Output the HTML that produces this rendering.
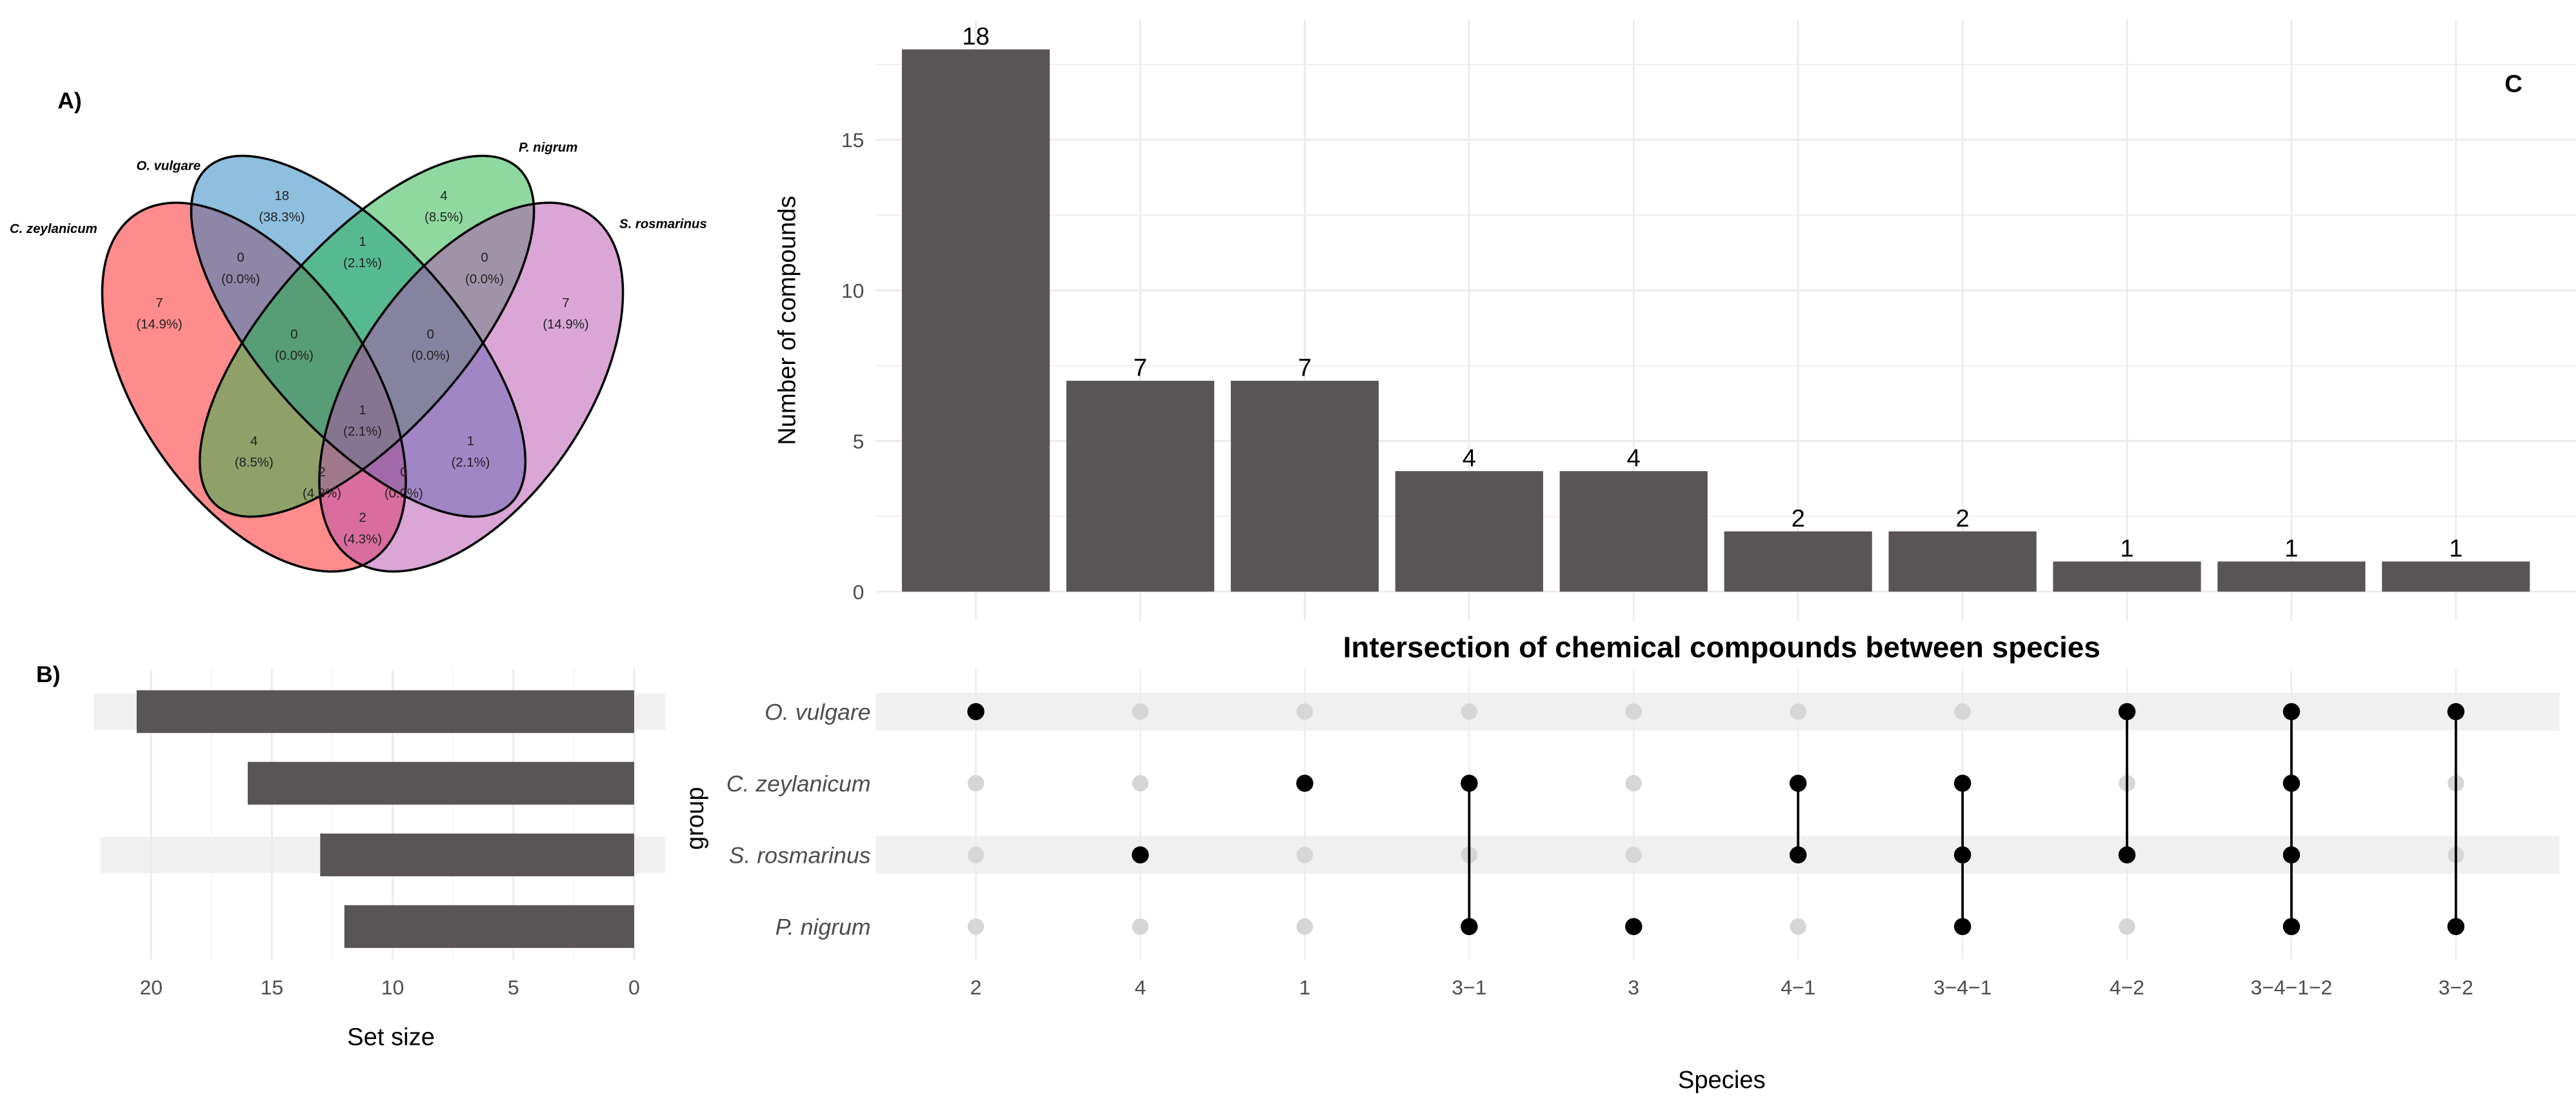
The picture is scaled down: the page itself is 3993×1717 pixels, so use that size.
<!DOCTYPE html>
<html><head><meta charset="utf-8"><style>
html,body{margin:0;padding:0;background:#fff;}
svg{display:block;font-family:"Liberation Sans",sans-serif;}
</style></head><body>
<svg id="fig" width="3993" height="1717" viewBox="0 0 1568 674.2" preserveAspectRatio="none" xmlns="http://www.w3.org/2000/svg">
<rect width="1568" height="674.2" fill="#fff"/>
<g id="venn"></g>
<g id="setsize"></g>
<g id="bars"></g>
<g id="matrix"></g>
</svg>
<script>
const NS='http://www.w3.org/2000/svg';
const categories=['2','4','1','3-1','3','4-1','3-4-1','4-2','3-4-1-2','3-2'];
const counts=[18,7,7,4,4,2,2,1,1,1];
const groups=['O. vulgare','C. zeylanicum','S. rosmarinus','P. nigrum'];
const groupIds=['2','1','4','3'];
const setSizes=[20.6,16,13,12];
const yTicks=[0,5,10,15];
const setTicks=[20,15,10,5,0];
const vennCounts=['18','4','0','1','0','7','7','0','0','1','4','1','2','0','2'];
const vennPcts=['(38.3%)','(8.5%)','(0.0%)','(2.1%)','(0.0%)','(14.9%)','(14.9%)','(0.0%)','(0.0%)','(2.1%)','(8.5%)','(2.1%)','(4.3%)','(0.0%)','(4.3%)'];

function mk(tag,attrs,parent,text){const e=document.createElementNS(NS,tag);for(const k in attrs)e.setAttribute(k,attrs[k]);if(text!==undefined)e.textContent=text;parent.appendChild(e);return e;}

// ---------- Bar chart ----------
const bars=document.getElementById('bars');
const xPos=i=>594+i*100.1;
const yBar=v=>360-v*18.33;
for(let v=2.5;v<=17.5;v+=5){const l=mk('line',{x1:533,x2:1568,y1:yBar(v),y2:yBar(v),stroke:'#ebebeb','stroke-width':0.6},bars);}
yTicks.forEach(t=>{const l=mk('line',{x1:533,x2:1568,y1:yBar(t),y2:yBar(t),stroke:'#ebebeb','stroke-width':1.2},bars);
 const tx=mk('text',{x:526,y:yBar(t)+4.5,'text-anchor':'end','font-size':12.5,fill:'#4d4d4d'},bars,String(t));});
categories.forEach((c,i)=>{const l=mk('line',{x1:xPos(i),x2:xPos(i),y1:12,y2:378,stroke:'#ebebeb','stroke-width':1.1},bars);});
categories.forEach((c,i)=>{const r=mk('rect',{x:xPos(i)-45,y:yBar(counts[i]),width:90,height:counts[i]*18.33,fill:'#595556'},bars);
 const t=mk('text',{x:xPos(i),y:yBar(counts[i])-3,'text-anchor':'middle','font-size':15,fill:'#000'},bars,String(counts[i]));});
let t=mk('text',{x:0,y:0,transform:'translate(484,195) rotate(-90)','text-anchor':'middle','font-size':15,fill:'#000'},bars,'Number of compounds');
t=mk('text',{x:1530,y:56,'text-anchor':'middle','font-size':15,'font-weight':'bold'},bars,'C');

// ---------- Matrix ----------
const mx=document.getElementById('matrix');
const rowY=i=>433+i*43.6;
[0,2].forEach(i=>{const r=mk('rect',{x:533,y:rowY(i)-11.5,width:1025,height:23,fill:'#f0f0f0'},mx);});
categories.forEach((c,i)=>{const l=mk('line',{x1:xPos(i),x2:xPos(i),y1:407,y2:584,stroke:'#ebebeb','stroke-width':0.9},mx);});
t=mk('text',{x:1048,y:400,'text-anchor':'middle','font-size':18,'font-weight':'bold'},mx,'Intersection of chemical compounds between species');
groups.forEach((g,i)=>{const tx=mk('text',{x:530,y:rowY(i)+5,'text-anchor':'end','font-size':14,'font-style':'italic',fill:'#4d4d4d'},mx,g);});
t=mk('text',{x:0,y:0,transform:'translate(428,498) rotate(-90)','text-anchor':'middle','font-size':15},mx,'group');
categories.forEach((c,i)=>{
 const mem=c.split('-').map(id=>groupIds.indexOf(id));
 const lo=Math.min(...mem),hi=Math.max(...mem);
 groups.forEach((g,j)=>{if(!mem.includes(j)){const d=mk('circle',{cx:xPos(i),cy:rowY(j),r:5,fill:'#d6d6d6'},mx);}});
 if(hi>lo){const l=mk('line',{x1:xPos(i),x2:xPos(i),y1:rowY(lo),y2:rowY(hi),stroke:'#000','stroke-width':1.5},mx);}
 mem.forEach(j=>{const d=mk('circle',{cx:xPos(i),cy:rowY(j),r:5.2,fill:'#000'},mx);});
 const tx=mk('text',{x:xPos(i),y:605,'text-anchor':'middle','font-size':12.5,fill:'#4d4d4d'},mx,c.replace(/-/g,'\u2212'));
});
t=mk('text',{x:1048,y:662,'text-anchor':'middle','font-size':15},mx,'Species');

// ---------- Set size ----------
const ss=document.getElementById('setsize');
const xs=v=>386-v*14.7;
[0,2].forEach(i=>{const r=mk('rect',{x:i===0?57:61,y:rowY(i)-11,width:i===0?348:344,height:22,fill:'#f0f0f0'},ss);});
for(let v=2.5;v<=20;v+=5){const l=mk('line',{x1:xs(v),x2:xs(v),y1:407,y2:584,stroke:'#f2f2f2','stroke-width':0.6},ss);}
setTicks.forEach(v=>{const l=mk('line',{x1:xs(v),x2:xs(v),y1:407,y2:584,stroke:'#ebebeb','stroke-width':1.1},ss);
 const tx=mk('text',{x:xs(v),y:605,'text-anchor':'middle','font-size':12.5,fill:'#4d4d4d'},ss,String(v));});
setSizes.forEach((v,i)=>{const r=mk('rect',{x:xs(v),y:rowY(i)-13,width:v*14.7,height:26,fill:'#595556'},ss);});
t=mk('text',{x:238,y:636,'text-anchor':'middle','font-size':15},ss,'Set size');
t=mk('text',{x:22,y:415,'font-size':14,'font-weight':'bold'},ss,'B)');

// ---------- Venn ----------
const vn=document.getElementById('venn');
const sx=1/3.072, sy=1/4.203;
const eg=mk('g',{transform:`scale(${sx},${sy})`},vn);
const ell=[['c-zeylanicum-ellipse',475,990,230,500,-22,'#ff1919'],['o-vulgare-ellipse',670,860,200,520,-30,'#1d7fbf'],['p-nigrum-ellipse',686,860,200,520,30,'#1fb343'],['s-rosmarinus-ellipse',881,990,230,500,22,'#b34dad']];
ell.forEach(e=>{const el=mk('ellipse',{cx:e[1],cy:e[2],rx:e[3],ry:e[4],transform:`rotate(${e[5]} ${e[1]} ${e[2]})`,fill:e[6],'fill-opacity':0.5,stroke:'none'},eg);});
ell.forEach(e=>{const el=mk('ellipse',{cx:e[1],cy:e[2],rx:e[3],ry:e[4],transform:`rotate(${e[5]} ${e[1]} ${e[2]})`,fill:'none',stroke:'#000','stroke-width':3.5,'vector-effect':'non-scaling-stroke'},eg);});
const vpos=[[527,520],[830,520],[450,678],[678,637],[906,678],[298,794],[1058,794],[550,874],[805,874],[678,1068],[475,1147],[880,1147],[602,1226],[755,1226],[678,1343]];
vpos.forEach((p,i)=>{const x=p[0]*sx,y=p[1]*sy;
 const a=mk('text',{x:x,y:y-2,'text-anchor':'middle','font-size':8,fill:'#222'},vn,vennCounts[i]);
 const b=mk('text',{x:x,y:y+11,'text-anchor':'middle','font-size':8,fill:'#222'},vn,vennPcts[i]);});
const vnames=[['O. vulgare',315,422],['P. nigrum',1025,375],['C. zeylanicum',100,583],['S. rosmarinus',1240,571]];
vnames.forEach(n=>{const a=mk('text',{x:n[1]*sx,y:n[2]*sy+3,'text-anchor':'middle','font-size':8,'font-style':'italic','font-weight':'bold'},vn,n[0]);});
t=mk('text',{x:35,y:66,'font-size':14,'font-weight':'bold'},vn,'A)');
</script>
</body></html>
